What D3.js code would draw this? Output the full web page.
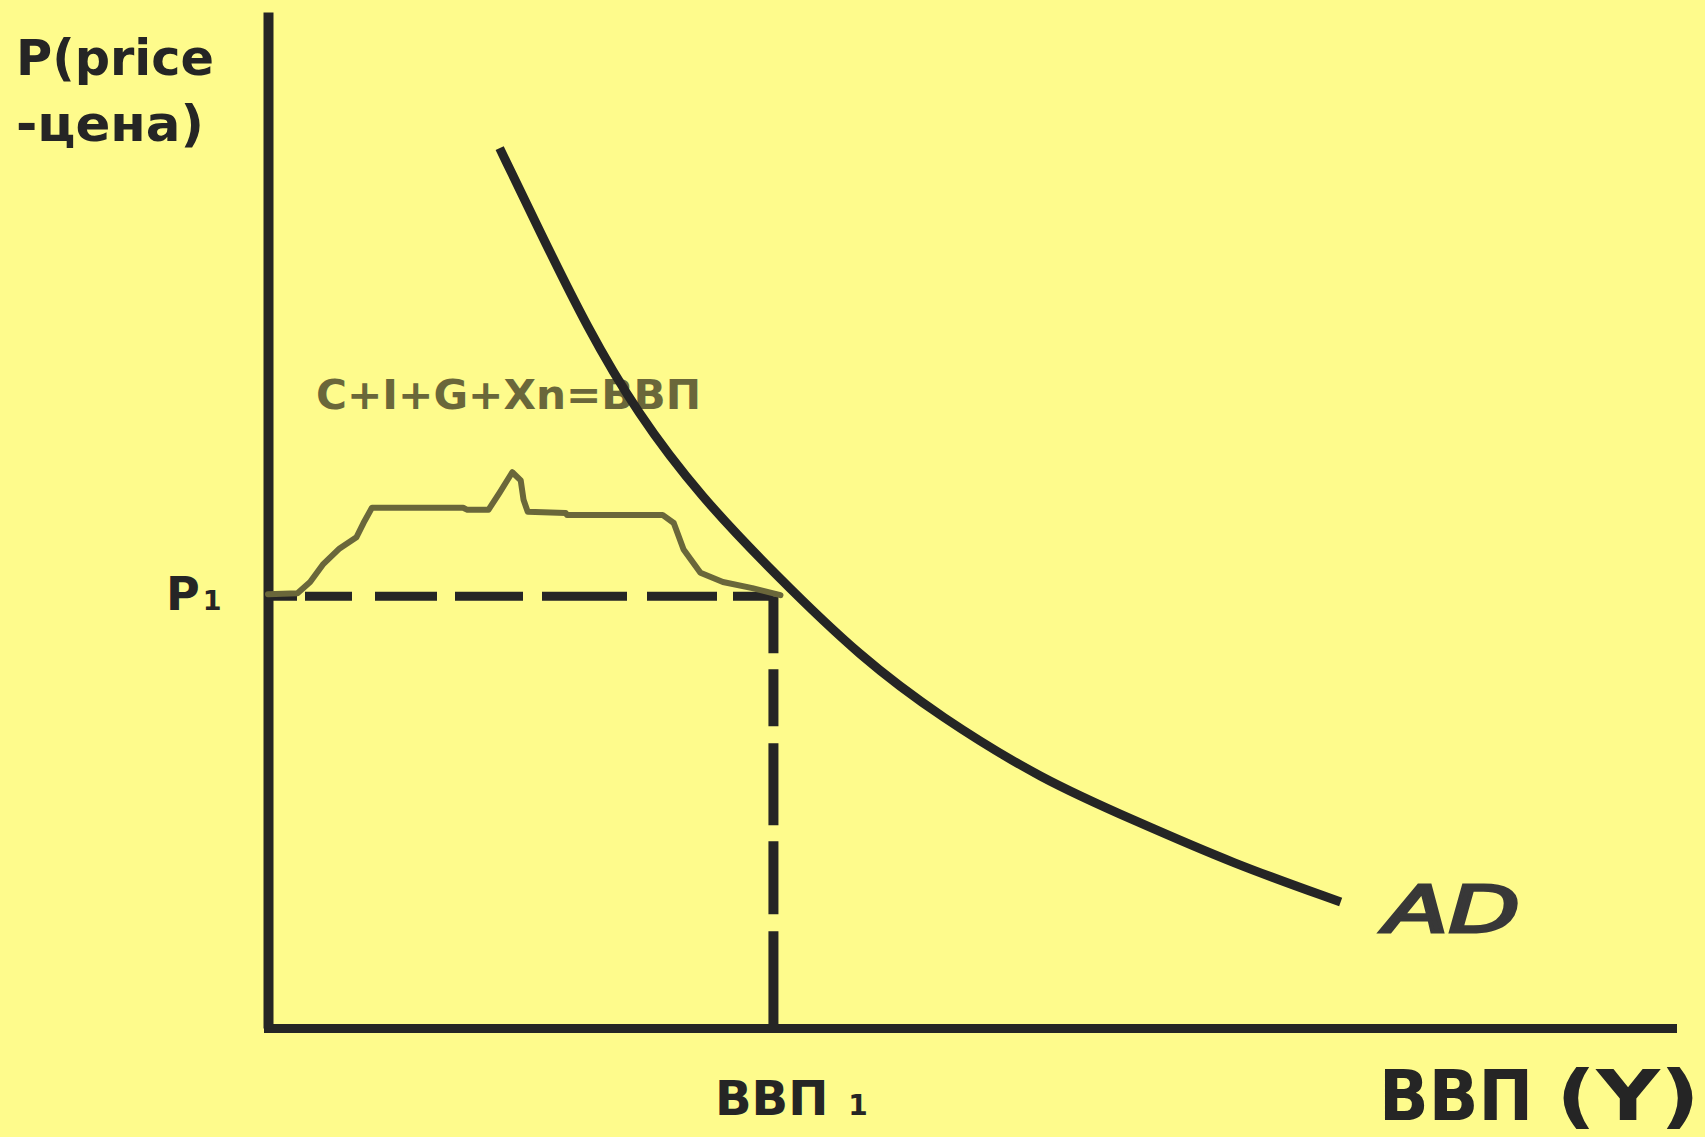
<!DOCTYPE html>
<html>
<head>
<meta charset="utf-8">
<script src="https://cdn.jsdelivr.net/npm/d3@7"></script>
<style>
  html, body { margin: 0; padding: 0; background: #fefb8c; overflow: hidden; }
  svg { display: block; }
</style>
</head>
<body>
<svg id="chart" width="1705" height="1137"></svg>
<script>
// ---- Data (abstract units 0..100) ----
const adX = [16.5, 19.4, 22.7, 26.3, 30.8, 36.3, 42.2, 47.9, 55.2, 61.6, 68.7, 76.4];
const adY = [86.6, 78.3, 69.0, 60.5, 52.3, 44.4, 36.5, 30.6, 24.4, 20.5, 16.2, 12.4];

const aggX = [0.0, 2.1, 3.0, 3.9, 5.1, 6.3, 6.8, 7.4, 13.9, 14.2, 15.7, 16.5, 17.4, 18.0, 18.2, 18.5, 21.2, 21.3, 28.1, 28.9, 29.6, 30.8, 32.4, 34.5, 36.5];
const aggY = [42.7, 42.8, 43.9, 45.6, 47.2, 48.3, 49.7, 51.2, 51.2, 51.0, 51.0, 52.7, 54.7, 53.9, 52.0, 50.8, 50.7, 50.5, 50.5, 49.7, 47.1, 44.8, 43.9, 43.3, 42.6];

const equilibriumX = 36.0;   // ВВП1
const equilibriumY = 42.5;   // P1

const yTitleLines = ["P(price", "-цена)"];
const xTitleParts = ["ВВП", "(Y)"];
const pLabel = ["P", "1"];
const qLabel = ["ВВП", "1"];
const curveLabel = "AD";
const identityLabel = "C+I+G+Xn=ВВП";

// ---- Scales ----
const x = d3.scaleLinear().domain([0, 100]).range([268, 1672]);
const y = d3.scaleLinear().domain([0, 100]).range([1028, 12]);

const svg = d3.select("#chart");
svg.append("rect").attr("width", 1705).attr("height", 1137).attr("fill", "#fefb8c");

const ink = "#252525";
const olive = "#6a673a";

// ---- Axes (no ticks, just the domain lines) ----
const xAxis = svg.append("g")
  .attr("transform", `translate(0,${y(0)})`)
  .call(d3.axisBottom(x).tickValues([]).tickSizeOuter(0));
xAxis.select(".domain").attr("stroke", ink).attr("stroke-width", 9).attr("stroke-linecap", "square");

const yAxis = svg.append("g")
  .attr("transform", `translate(${x(0)},0)`)
  .call(d3.axisLeft(y).tickValues([]).tickSizeOuter(0));
yAxis.select(".domain").attr("stroke", ink).attr("stroke-width", 10).attr("stroke-linecap", "butt");

// ---- Dashed guide lines ----
svg.append("line")
  .attr("x1", x(0)).attr("x2", x(equilibriumX))
  .attr("y1", y(equilibriumY)).attr("y2", y(equilibriumY))
  .attr("stroke", ink).attr("stroke-width", 9)
  .attr("stroke-dasharray", "29,8,47,23,62,18,68,19,85,20,70,16,45");

svg.append("line")
  .attr("x1", x(equilibriumX)).attr("x2", x(equilibriumX))
  .attr("y1", y(equilibriumY)).attr("y2", y(0))
  .attr("stroke", ink).attr("stroke-width", 10)
  .attr("stroke-dasharray", "57,16,57,17,82,16,73,17,98");

// ---- Olive identity text and line ----
svg.append("text")
  .attr("x", 316).attr("y", 409)
  .attr("font-family", "DejaVu Sans")
  .attr("font-weight", "bold")
  .attr("font-size", 41)
  .attr("textLength", 385)
  .attr("lengthAdjust", "spacingAndGlyphs")
  .attr("fill", olive)
  .text(identityLabel);

const aggData = aggX.map((v, i) => [v, aggY[i]]);
svg.append("path")
  .datum(aggData)
  .attr("fill", "none")
  .attr("stroke", olive)
  .attr("stroke-width", 6)
  .attr("stroke-linejoin", "round")
  .attr("stroke-linecap", "round")
  .attr("d", d3.line().x(d => x(d[0])).y(d => y(d[1])).curve(d3.curveLinear));

// ---- AD curve ----
const adData = adX.map((v, i) => [v, adY[i]]);
svg.append("path")
  .datum(adData)
  .attr("fill", "none")
  .attr("stroke", ink)
  .attr("stroke-width", 9)
  .attr("stroke-linecap", "butt")
  .attr("d", d3.line().x(d => x(d[0])).y(d => y(d[1])).curve(d3.curveBasis));

// ---- Labels ----
const yt = svg.append("text")
  .attr("font-family", "DejaVu Sans").attr("font-weight", "bold")
  .attr("font-size", 50).attr("fill", ink);
yt.append("tspan").attr("x", 16).attr("y", 75).attr("textLength", 198).attr("lengthAdjust", "spacingAndGlyphs").text(yTitleLines[0]);
yt.append("tspan").attr("x", 16).attr("y", 141).attr("textLength", 188).attr("lengthAdjust", "spacingAndGlyphs").text(yTitleLines[1]);

const pl = svg.append("text")
  .attr("x", 166).attr("y", y(equilibriumY) + 14)
  .attr("font-family", "DejaVu Sans").attr("font-weight", "bold")
  .attr("fill", ink);
pl.append("tspan").attr("font-size", 46).text(pLabel[0]);
pl.append("tspan").attr("font-size", 27).attr("dx", 3).text(pLabel[1]);

const ql = svg.append("text")
  .attr("x", 715).attr("y", 1115)
  .attr("font-family", "DejaVu Sans").attr("font-weight", "bold")
  .attr("fill", ink);
ql.append("tspan").attr("font-size", 48).text(qLabel[0]);
ql.append("tspan").attr("font-size", 28).attr("dx", 20).text(qLabel[1]);

const xt = svg.append("text")
  .attr("font-family", "DejaVu Sans").attr("font-weight", "bold")
  .attr("font-size", 70).attr("fill", ink);
xt.append("tspan").attr("x", 1379).attr("y", 1120).attr("textLength", 154).attr("lengthAdjust", "spacingAndGlyphs").text(xTitleParts[0]);
xt.append("tspan").attr("x", 1556).attr("y", 1120).attr("textLength", 144).attr("lengthAdjust", "spacingAndGlyphs").text(xTitleParts[1]);

svg.append("text")
  .attr("x", 1385).attr("y", 932)
  .attr("font-family", "DejaVu Sans").attr("font-style", "italic")
  .attr("font-size", 64)
  .attr("textLength", 135).attr("lengthAdjust", "spacingAndGlyphs")
  .attr("fill", "#383838").attr("stroke", "#383838").attr("stroke-width", 3)
  .text(curveLabel);
</script>
</body>
</html>
